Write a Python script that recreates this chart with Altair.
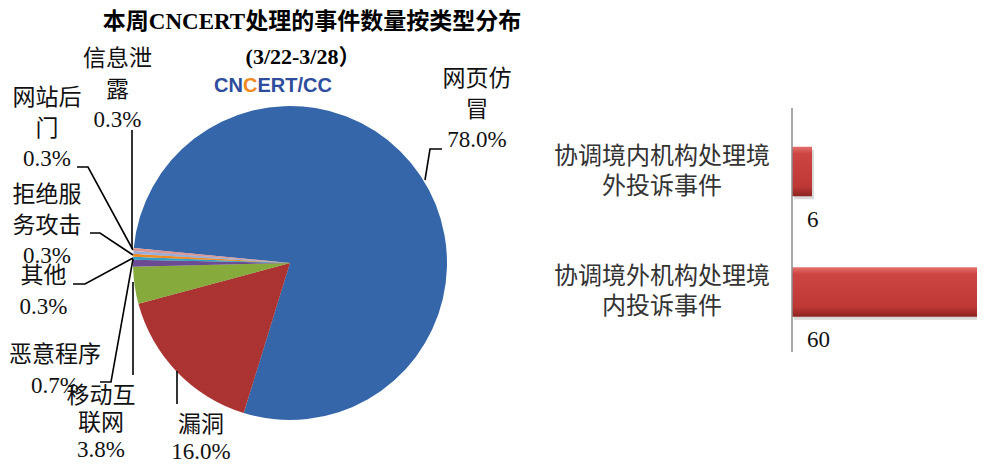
import math
import altair as alt
import pandas as pd

# ---------------- data ----------------
pie_categories = ["网页仿冒", "漏洞", "移动互联网", "恶意程序", "其他", "拒绝服务攻击", "网站后门", "信息泄露"]
pie_shares = [78.0, 16.0, 3.8, 0.7, 0.3, 0.3, 0.3, 0.3]
pie_name_wrapped = ["网页仿\n冒", "漏洞", "移动互\n联网", "恶意程序", "其他", "拒绝服\n务攻击", "网站后\n门", "信息泄\n露"]
pie_colors = ["#3566AA", "#AB3331", "#86AA3C", "#6B4C92", "#33A0C4", "#F08A22", "#93AEDC", "#DA9593"]

bar_categories = ["协调境内机构处理境外投诉事件", "协调境外机构处理境内投诉事件"]
bar_labels = ["协调境内机构处理境\n外投诉事件", "协调境外机构处理境\n内投诉事件"]
bar_values = [6, 60]

title_text = "本周CNCERT处理的事件数量按类型分布"
subtitle_text = "(3/22-3/28）"
logo_parts = ["CN", "C", "ERT/CC"]

# ---------------- layout (annotation positions, px) ----------------
PIE_X, PIE_Y, PIE_R = 282, 255, 157
PIE_START = math.radians(275.5)
label_x = [469, 193, 93, 47, 35.5, 39, 39, 109.5]
label_y_first_line = [71, 417, 388, 347, 268, 187, 90, 51]
label_line_height = [30.5, 27, 27, 30.5, 30.5, 30.5, 30.5, 30.5]
leader_paths = [
    [(434, 141), (422, 141), (417, 172)],
    [(169, 396), (169, 363)],
    [(125, 367), (125, 274)],
    [(92, 374), (103, 374), (125, 251)],
    [(65, 276), (77, 276), (125, 250)],
    [(82, 225), (92, 225), (125, 247)],
    [(69, 159), (80, 159), (125, 242)],
    [(124, 122), (124, 241)],
]

SERIF = "Liberation Serif, Noto Sans CJK SC, serif"
CJK = "Noto Sans CJK SC, Liberation Serif, sans-serif"
SANS = "Liberation Sans, Arial, sans-serif"

pie_df = pd.DataFrame({
    "category": pie_categories,
    "share": pie_shares,
    "idx": list(range(len(pie_categories))),
})
label_df = pd.DataFrame({
    "label": [f"{n}\n{s:.1f}%" for n, s in zip(pie_name_wrapped, pie_shares)],
    "lx": label_x,
    "ly": label_y_first_line,
    "lh": label_line_height,
})
leader_rows = []
for i, path in enumerate(leader_paths):
    for k, (px, py) in enumerate(path):
        leader_rows.append({"id": i, "k": k, "px": px, "py": py})
leader_df = pd.DataFrame(leader_rows)

bar_df = pd.DataFrame({"category": bar_categories, "label": bar_labels, "value": bar_values})

one = alt.Data(values=[{}])

# ---------------- pie ----------------
pie_shadow = alt.Chart(one).mark_circle(
    size=math.pi * PIE_R * PIE_R, color="#555555", opacity=0.22
).encode(x=alt.value(PIE_X + 2), y=alt.value(PIE_Y + 3))

arcs = alt.Chart(pie_df).mark_arc(radius=PIE_R).encode(
    theta=alt.Theta("share:Q", stack=True,
                    scale=alt.Scale(range=[PIE_START, PIE_START + 2 * math.pi])),
    color=alt.Color("category:N", scale=alt.Scale(domain=pie_categories, range=pie_colors), legend=None),
    order=alt.Order("idx:Q"),
    x=alt.value(PIE_X),
    y=alt.value(PIE_Y),
)

leaders = alt.Chart(leader_df).mark_line(color="#000000", strokeWidth=1.6).encode(
    x=alt.X("px:Q", scale=None, axis=None),
    y=alt.Y("py:Q", scale=None, axis=None),
    detail="id:N",
    order="k:Q",
)

pie_label_layers = []
for lh in sorted(set(label_line_height)):
    pie_label_layers.append(
        alt.Chart(label_df[label_df["lh"] == lh]).mark_text(
            font=SERIF, fontSize=23, color="#111111", align="center", baseline="middle",
            lineBreak="\n", lineHeight=lh,
        ).encode(
            x=alt.X("lx:Q", scale=None, axis=None),
            y=alt.Y("ly:Q", scale=None, axis=None),
            text="label:N",
        )
    )

title = alt.Chart(one).mark_text(
    text=title_text, font=SERIF, fontSize=23, fontWeight="bold", color="#000000",
    align="center", baseline="middle",
).encode(x=alt.value(304), y=alt.value(14))

subtitle = alt.Chart(one).mark_text(
    text=subtitle_text, font=SERIF, fontSize=22, fontWeight="bold", color="#000000",
    align="center", baseline="middle",
).encode(x=alt.value(295), y=alt.value(49))

logo_cn = alt.Chart(one).mark_text(
    text=logo_parts[0], font=SANS, fontSize=20, fontWeight="bold",
    color="#2E4D9C", align="right", baseline="middle",
).encode(x=alt.value(235), y=alt.value(78))
logo_c = alt.Chart(one).mark_text(
    text=logo_parts[1], font=SANS, fontSize=20, fontWeight="bold",
    color="#F08A1E", align="left", baseline="middle",
).encode(x=alt.value(235), y=alt.value(78))
logo_rest = alt.Chart(one).mark_text(
    text=logo_parts[2], font=SANS, fontSize=20, fontWeight="bold",
    color="#2E4D9C", align="left", baseline="middle",
).encode(x=alt.value(249.4), y=alt.value(78))

# ---------------- bars ----------------
xs = alt.Scale(domain=[0, 60], range=[784, 984])
ys = alt.Scale(domain=bar_categories, range=[103.25, 344.25], paddingInner=0.589, paddingOuter=0.2945)

bar_grad = alt.Gradient(
    gradient="linear",
    stops=[
        alt.GradientStop(offset=0, color="#E3716D"),
        alt.GradientStop(offset=0.14, color="#CD4542"),
        alt.GradientStop(offset=0.8, color="#BE3835"),
        alt.GradientStop(offset=1, color="#8C2421"),
    ],
    x1=0, y1=0, x2=0, y2=1,
)

bar_shadow = alt.Chart(bar_df).mark_bar(color="#000000", opacity=0.15, xOffset=2, yOffset=3).encode(
    x=alt.X("value:Q", scale=xs, axis=None),
    y=alt.Y("category:N", scale=ys, axis=None),
)
bars = alt.Chart(bar_df).mark_bar(color=bar_grad).encode(
    x=alt.X("value:Q", scale=xs, axis=None),
    y=alt.Y("category:N", scale=ys, axis=None),
)
axis_line = alt.Chart(one).mark_rule(color="#8C8C8C", strokeWidth=1.5).encode(
    x=alt.datum(0, scale=xs), y=alt.value(100), y2=alt.value(344),
)
cat_text = alt.Chart(bar_df).mark_text(
    font=CJK, fontSize=24, color="#333333", align="center", baseline="middle",
    lineBreak="\n", lineHeight=30, dy=-15,
).encode(
    x=alt.value(654),
    y=alt.Y("category:N", scale=ys, axis=None),
    text="label:N",
)
val_text = alt.Chart(bar_df).mark_text(
    font=SERIF, fontSize=23, color="#111111", align="left", baseline="middle", dy=48,
).encode(
    x=alt.value(799),
    y=alt.Y("category:N", scale=ys, axis=None),
    text="value:Q",
)
bar_group = alt.layer(bar_shadow, bars, axis_line, cat_text, val_text)

chart = alt.layer(
    pie_shadow, arcs, leaders, *pie_label_layers, title, subtitle, logo_cn, logo_c, logo_rest, bar_group
).resolve_scale(
    x="independent", y="independent"
).properties(
    width=969, height=457, autosize=alt.AutoSizeParams(type="none"), padding=0,
    background="#ffffff",
).configure_view(stroke=None)

chart.save("out.html", embed_options={"renderer": "svg", "actions": False})
